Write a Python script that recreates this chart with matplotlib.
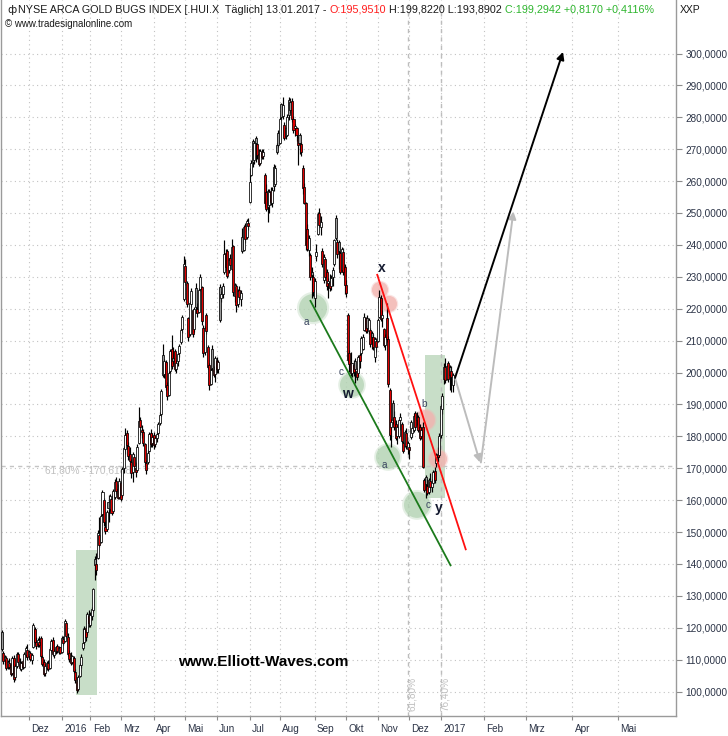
import numpy as np
import pandas as pd
import matplotlib
matplotlib.use("Agg")
import matplotlib.pyplot as plt
from matplotlib import font_manager
from matplotlib.patches import Rectangle, Ellipse, FancyArrowPatch
from matplotlib.transforms import ScaledTranslation

# ---------------- data ----------------
holidays = ["2015-11-26", "2015-12-25", "2016-01-01", "2016-01-18", "2016-02-15",
            "2016-03-25", "2016-05-30", "2016-07-04", "2016-09-05", "2016-11-24",
            "2016-12-26", "2017-01-02"]
first_date = "2015-11-04"
last_date = "2017-01-13"

opens = [
    # Nov 2015
    118.5, 112.0, 109.8, 110.5, 107.6, 109.0, 108.2, 105.8, 110.6, 104.5, 108.0, 111.8, 109.0, 107.2, 109.5, 107.8, 111.5, 113.0,
    # Dec 2015
    111.2, 112.0, 110.0, 113.8, 119.5, 115.4, 114.8, 115.5, 116.8, 110.8, 109.2, 105.8, 107.5, 109.0, 107.5, 113.0, 116.2, 111.4, 112.6, 114.2, 112.4, 113.8,
    # Jan 2016
    112.5, 116.5, 115.8, 121.5, 117.0, 112.0, 110.5, 109.2, 110.6, 106.0, 103.2, 100.8, 104.9, 108.4, 113.5, 115.4, 119.8, 118.5, 123.8,
    # Feb
    121.0, 123.6, 125.5, 141.5, 140.0, 142.0, 149.0, 147.0, 155.5, 160.0, 151.5, 150.8, 159.5, 157.2, 160.5, 156.5, 161.0, 166.0, 163.5, 161.0,
    # Mar
    165.5, 161.5, 170.2, 176.0, 181.0, 177.0, 174.5, 172.0, 168.8, 173.5, 170.2, 169.5, 178.0, 185.2, 182.0, 181.5, 177.5, 171.5, 172.0, 175.5, 181.0, 178.0,
    # Apr
    180.5, 177.5, 179.5, 181.0, 184.2, 187.0, 205.5, 199.5, 203.2, 196.0, 193.0, 200.5, 207.5, 204.5, 206.8, 201.0, 203.5, 206.0, 209.5, 213.5, 223.0,
    # May
    233.5, 228.0, 217.0, 212.0, 221.5, 219.5, 213.5, 226.5, 220.0, 219.0, 226.2, 226.8, 214.0, 206.5, 218.0, 208.0, 202.5, 196.5, 207.5, 201.0, 199.5,
    # Jun
    203.5, 201.2, 226.8, 223.5, 224.5, 231.5, 237.5, 238.0, 232.0, 236.0, 232.5, 239.5, 224.0, 227.0, 221.5, 226.0, 223.0, 242.5, 238.5, 246.0, 242.5, 246.8,
    # Jul
    253.5, 262.0, 272.5, 266.5, 273.4, 271.5, 268.5, 265.8, 269.0, 268.0, 262.0, 256.5, 256.8, 252.5, 257.0, 253.0, 264.5, 259.0, 271.3, 275.0,
    # Aug
    272.0, 284.2, 280.5, 277.6, 276.5, 274.5, 285.4, 284.8, 285.0, 279.6, 276.5, 276.5, 273.4, 274.4, 271.5, 264.0, 258.0, 253.0, 245.0, 238.5, 236.8, 231.6, 230.0,
    # Sep
    223.5, 236.5, 243.5, 250.0, 245.5, 238.0, 229.0, 235.5, 231.6, 228.0, 228.5, 227.0, 230.0, 234.0, 248.3, 241.0, 241.0, 237.5, 232.0, 237.9, 233.0,
    # Oct
    227.5, 218.0, 206.0, 203.0, 199.7, 202.5, 203.5, 200.5, 199.7, 205.5, 206.0, 207.5, 213.3, 217.0, 217.0, 213.0, 213.3, 212.3, 211.0, 205.0, 210.0,
    # Nov
    210.0, 217.5, 223.5, 217.0, 213.5, 208.5, 217.0, 210.5, 194.5, 183.0, 190.3, 186.0, 184.0, 180.0, 180.0, 185.1, 184.0, 177.8, 177.0, 181.0, 176.0,
    # Dec
    176.5, 179.9, 181.0, 182.0, 187.2, 186.0, 186.2, 183.0, 180.0, 183.0, 166.3, 167.3, 164.5, 162.5, 166.0, 164.2, 165.5, 169.0, 171.5, 174.5, 174.0,
    # Jan 2017
    180.5, 188.5, 198.0, 201.8, 198.0, 202.9, 201.8, 200.5, 195.951,
]
highs = [
    119.3, 112.8, 111.5, 111.2, 110.0, 110.6, 109.0, 111.0, 111.5, 108.5, 112.3, 112.4, 110.5, 109.6, 110.2, 112.5, 114.2, 114.8,
    113.0, 112.8, 112.0, 121.6, 120.3, 117.0, 116.8, 117.3, 117.5, 111.5, 110.2, 108.6, 109.5, 110.0, 113.8, 116.5, 117.2, 113.2, 114.4, 115.0, 114.2, 114.0,
    117.5, 117.4, 122.8, 122.0, 118.2, 113.0, 112.4, 111.5, 111.2, 107.2, 104.6, 105.2, 108.8, 111.6, 119.8, 120.4, 120.6, 125.0, 125.4,
    124.8, 126.5, 132.6, 142.5, 143.5, 150.5, 154.8, 155.5, 163.2, 160.8, 153.5, 157.0, 161.6, 162.0, 161.5, 163.5, 166.5, 167.2, 165.0, 166.8,
    166.0, 170.5, 177.0, 182.5, 182.0, 178.2, 176.8, 172.8, 175.2, 174.5, 171.8, 177.5, 189.3, 186.2, 183.5, 182.4, 178.0, 172.5, 175.8, 181.5, 182.2, 181.0,
    181.2, 180.0, 181.2, 184.5, 187.5, 194.8, 209.0, 204.2, 204.0, 197.0, 200.5, 207.5, 211.8, 208.0, 207.4, 204.0, 206.2, 208.8, 214.0, 218.0, 236.5,
    235.5, 228.8, 217.5, 222.5, 226.5, 220.0, 220.5, 228.0, 221.8, 226.5, 230.8, 227.2, 215.0, 214.6, 218.6, 208.5, 203.0, 201.5, 208.5, 202.0, 205.2,
    205.0, 204.0, 227.6, 225.5, 228.0, 241.5, 238.8, 238.8, 236.0, 237.2, 242.0, 240.0, 228.2, 227.8, 226.2, 227.0, 226.0, 245.2, 246.2, 247.0, 248.0, 248.5,
    264.0, 266.5, 273.2, 272.5, 274.0, 272.0, 270.0, 270.0, 270.2, 270.0, 262.5, 259.0, 257.5, 257.5, 258.0, 258.0, 265.5, 265.0, 272.0, 276.0,
    280.0, 284.5, 286.4, 278.5, 277.0, 281.0, 286.5, 286.0, 286.2, 280.5, 278.0, 277.0, 274.0, 275.0, 272.2, 265.0, 259.5, 253.5, 246.5, 243.0, 237.5, 233.0, 231.0,
    229.5, 240.2, 250.4, 251.5, 249.0, 239.0, 237.0, 236.0, 232.5, 229.5, 231.0, 230.5, 233.0, 242.0, 249.5, 242.0, 241.5, 238.0, 239.4, 239.0, 234.0,
    229.0, 218.5, 207.0, 206.5, 203.0, 203.9, 204.5, 201.5, 205.5, 206.2, 211.5, 212.0, 218.8, 217.5, 218.0, 217.0, 214.0, 213.0, 212.0, 211.2, 210.8,
    217.0, 225.9, 224.2, 219.5, 214.0, 212.0, 221.7, 211.5, 195.0, 185.5, 191.5, 188.0, 185.0, 183.5, 185.5, 187.2, 184.5, 178.5, 182.0, 182.5, 178.5,
    177.8, 185.1, 183.0, 187.2, 188.0, 187.5, 186.8, 184.0, 183.0, 184.5, 167.0, 168.0, 166.5, 167.0, 168.5, 166.5, 169.4, 170.5, 174.7, 176.8, 181.0,
    190.0, 193.5, 203.0, 204.4, 202.5, 203.5, 202.5, 202.0, 199.822,
]
lows = [
    112.8, 108.5, 108.2, 106.8, 106.9, 107.0, 104.8, 105.2, 103.0, 103.5, 107.5, 108.6, 106.8, 106.5, 107.0, 107.4, 110.8, 110.0,
    110.2, 109.5, 108.6, 113.5, 115.0, 113.4, 113.8, 114.0, 110.6, 108.0, 104.8, 105.0, 106.8, 106.5, 107.2, 112.5, 111.0, 110.5, 111.8, 112.0, 111.8, 111.6,
    112.0, 114.6, 115.4, 116.8, 111.2, 109.4, 108.2, 108.6, 105.8, 102.8, 99.4, 100.2, 104.4, 107.5, 113.0, 114.5, 115.8, 117.8, 120.2,
    120.2, 122.4, 125.0, 135.0, 136.5, 141.5, 145.2, 146.5, 155.0, 152.0, 149.5, 150.2, 153.0, 156.5, 155.2, 156.0, 160.5, 162.0, 160.2, 160.5,
    159.6, 161.0, 168.5, 174.5, 176.0, 172.5, 171.0, 167.0, 165.8, 169.5, 167.2, 169.0, 177.5, 180.5, 179.4, 177.0, 171.0, 168.2, 171.2, 175.0, 176.5, 176.8,
    176.0, 176.8, 178.2, 180.2, 183.4, 186.5, 198.5, 198.2, 194.5, 191.4, 192.5, 200.0, 201.2, 202.8, 200.5, 199.8, 202.0, 204.8, 209.0, 212.5, 222.5,
    227.5, 220.5, 210.0, 211.5, 220.5, 211.0, 212.8, 218.8, 217.5, 218.5, 225.5, 215.0, 205.0, 205.5, 212.0, 201.0, 194.5, 196.0, 200.5, 198.5, 197.0,
    200.0, 199.7, 215.8, 222.0, 223.5, 231.0, 232.0, 229.5, 231.2, 232.5, 232.0, 224.0, 222.2, 219.0, 220.5, 222.8, 221.0, 237.5, 238.0, 240.5, 242.0, 244.8,
    253.0, 261.5, 264.5, 265.5, 266.0, 267.0, 264.8, 265.0, 266.8, 267.0, 252.0, 250.5, 247.3, 250.0, 252.5, 252.0, 257.0, 258.5, 268.5, 270.8,
    271.5, 279.0, 279.5, 273.0, 273.2, 274.0, 279.2, 281.5, 278.5, 275.0, 274.0, 272.5, 265.0, 268.5, 268.0, 256.0, 252.8, 238.5, 238.0, 236.5, 229.0, 223.2, 224.0,
    220.6, 235.0, 243.0, 245.5, 243.1, 233.0, 228.0, 229.0, 226.0, 223.2, 225.5, 226.0, 227.0, 233.5, 241.5, 236.0, 232.6, 231.0, 231.5, 230.5, 224.5,
    223.8, 203.4, 200.2, 199.0, 198.5, 199.0, 196.6, 197.5, 199.0, 201.5, 205.5, 207.0, 213.0, 212.3, 212.5, 212.0, 208.1, 207.5, 207.0, 203.4, 206.5,
    209.5, 217.0, 216.0, 214.4, 208.0, 207.1, 209.5, 195.5, 178.8, 176.5, 184.0, 182.0, 178.8, 177.5, 179.5, 182.0, 177.8, 174.7, 176.5, 176.0, 174.5,
    173.0, 179.0, 179.9, 181.5, 182.0, 183.5, 181.5, 178.8, 179.0, 170.0, 162.5, 160.6, 161.5, 161.8, 163.0, 162.5, 165.0, 165.3, 170.5, 172.0, 173.5,
    179.5, 187.0, 196.5, 196.6, 197.5, 197.0, 194.5, 194.0, 193.8902,
]
closes = [
    113.2, 109.5, 110.8, 107.4, 109.2, 107.8, 105.6, 110.4, 103.8, 107.9, 111.6, 109.2, 107.5, 109.0, 107.6, 111.8, 113.6, 110.9,
    112.4, 110.2, 111.5, 121.0, 115.6, 114.2, 116.0, 114.6, 111.2, 108.5, 105.4, 107.9, 108.8, 107.1, 113.3, 115.9, 111.6, 112.8, 113.9, 112.6, 113.5, 112.1,
    116.8, 115.3, 122.0, 117.3, 111.8, 110.1, 108.8, 111.0, 106.3, 103.5, 100.4, 104.6, 108.2, 110.9, 115.2, 119.6, 117.2, 124.2, 121.4,
    124.0, 125.8, 132.0, 139.8, 138.2, 149.6, 146.0, 155.0, 162.6, 153.0, 150.4, 156.2, 157.5, 161.2, 156.0, 162.8, 165.8, 162.9, 160.8, 166.0,
    160.4, 169.8, 176.2, 180.5, 177.2, 173.8, 172.2, 168.5, 174.4, 170.6, 168.8, 176.8, 184.8, 182.8, 181.2, 178.0, 172.0, 169.4, 174.8, 180.8, 177.5, 179.8,
    177.2, 179.4, 180.6, 183.9, 186.6, 194.2, 199.2, 203.5, 195.5, 192.6, 199.8, 206.8, 202.0, 203.6, 201.2, 203.0, 205.8, 208.2, 213.4, 217.4, 234.0,
    228.5, 221.5, 211.0, 221.8, 225.6, 212.2, 219.8, 220.5, 218.6, 225.9, 230.0, 216.0, 206.0, 213.8, 213.0, 201.8, 196.0, 200.8, 201.5, 199.2, 204.6,
    201.0, 203.2, 216.6, 224.6, 227.2, 237.2, 233.2, 230.2, 235.4, 233.6, 239.4, 225.2, 227.4, 221.2, 225.4, 223.6, 224.8, 238.2, 245.5, 242.0, 247.5, 246.0,
    259.8, 265.8, 266.0, 271.8, 272.0, 268.2, 265.5, 269.4, 267.6, 269.2, 253.0, 251.4, 252.0, 256.5, 253.5, 257.2, 258.5, 264.2, 269.2, 271.4,
    279.5, 280.0, 283.8, 273.6, 274.0, 280.2, 280.6, 282.4, 279.6, 276.0, 277.2, 274.4, 271.3, 272.0, 269.2, 257.7, 253.0, 240.0, 238.8, 242.2, 229.8, 230.5, 225.2,
    228.6, 237.9, 249.8, 246.2, 247.2, 234.0, 236.2, 229.8, 227.2, 228.8, 226.5, 229.5, 232.2, 241.5, 242.2, 237.0, 238.0, 231.6, 238.8, 231.5, 227.4,
    224.8, 204.0, 202.8, 199.8, 202.9, 200.2, 201.0, 198.5, 204.8, 203.5, 210.8, 211.2, 217.5, 213.0, 214.0, 216.5, 209.0, 211.0, 208.0, 210.5, 208.0,
    216.5, 223.8, 216.8, 218.0, 208.6, 211.2, 210.5, 196.5, 180.5, 184.5, 185.0, 183.0, 179.6, 182.8, 185.0, 186.2, 178.5, 175.5, 181.5, 177.0, 177.8,
    175.8, 184.5, 182.5, 186.5, 183.0, 185.2, 182.0, 179.5, 182.0, 170.5, 163.2, 165.0, 162.2, 166.2, 164.0, 165.8, 168.8, 166.4, 174.0, 173.6, 180.2,
    189.5, 192.5, 201.8, 197.8, 201.9, 198.0, 199.2, 198.4772, 199.2942,
]

y_ticks = list(range(100, 310, 10))
month_names = {2: "Feb", 3: "Mrz", 4: "Apr", 5: "Mai", 6: "Jun", 7: "Jul", 8: "Aug",
               9: "Sep", 10: "Okt", 11: "Nov", 12: "Dez"}
tick_months = pd.date_range("2015-12-01", "2017-05-01", freq="MS")

# annotations (x in bar units, y in index points)
fib_level = 170.6
fib_level_label = "61,80% - 170,6188"
fib_time_x = [270.4, 292.3]
fib_time_labels = ["61,80%", "76,40%"]
box_x0 = [49.4, 281.4]
box_x1 = [63.2, 294.7]
box_y0 = [99.0, 160.7]
box_y1 = [144.4, 205.5]
green_circ_x = [207.0, 232.9, 256.8, 276.1]
green_circ_y = [220.2, 196.1, 173.5, 158.5]
green_circ_r = [14, 12, 12, 13]          # radius in pixels
pink_circ_x = [251.5, 257.5, 281.4, 290.1]
pink_circ_y = [225.9, 221.5, 185.1, 172.9]
pink_circ_r = [8, 8, 10, 9]
green_line_x = [205.0, 298.7]
green_line_y = [222.7, 139.3]
red_line_x = [249.5, 308.7]
red_line_y = [230.9, 144.3]
black_arrow_x = [301.4, 373.2]
black_arrow_y = [198.3, 300.5]
gray_arrow1_x = [301.4, 318.0]
gray_arrow1_y = [198.3, 171.8]
gray_arrow2_x = [318.6, 340.2]
gray_arrow2_y = [171.8, 250.5]
wave_text = ["a", "c", "w", "x", "a", "b", "c", "y"]
wave_x = [202.8, 226.0, 229.9, 252.8, 254.2, 280.8, 283.6, 290.6]
wave_y = [215.9, 200.1, 193.4, 232.8, 171.0, 190.1, 158.6, 157.4]
wave_bold = [False, False, True, True, False, False, False, True]

# ---------------- layout ----------------
W, H = 728, 736
PX_PER_BAR = 1.504
X0_PX = 1.72
PX_PER_PT = 3.19
fig = plt.figure(figsize=(W / 100, H / 100), dpi=100)
ax = fig.add_axes([1 / W, 20 / H, 675 / W, 716 / H])
ax.set_xlim((1 - X0_PX) / PX_PER_BAR, (676 - X0_PX) / PX_PER_BAR)
ax.set_ylim(300 - (716 - 53.5) / PX_PER_PT, 300 + 53.5 / PX_PER_PT)

available = {f.name for f in font_manager.fontManager.ttflist}
SANS = "Liberation Sans" if "Liberation Sans" in available else "DejaVu Sans"
NARROW = "Liberation Sans Narrow" if "Liberation Sans Narrow" in available else SANS

dates = pd.bdate_range(first_date, last_date, freq="C", holidays=holidays)
n = len(dates)
assert n == len(opens) == len(highs) == len(lows) == len(closes), (n, len(opens), len(highs), len(lows), len(closes))

def date_to_x(d):
    d = pd.Timestamp(d)
    if d <= dates[-1]:
        return float(np.searchsorted(dates.values, np.datetime64(d)))
    return (n - 1) + 1.5 + (d - dates[-1]).days

# grid & ticks
xt = [date_to_x(d) for d in tick_months]
xl = [str(d.year) if d.month == 1 else month_names[d.month] for d in tick_months]
ax.set_xticks(xt)
ax.set_xticklabels(xl)
ax.set_yticks(y_ticks)
ax.set_yticklabels([f"{v:.4f}".replace(".", ",") for v in y_ticks])
ax.yaxis.tick_right()
ax.tick_params(axis="y", direction="out", length=4, width=0.8, color="#8c8c8c",
               labelsize=7.2, labelcolor="#2b3346", pad=3)
ax.tick_params(axis="x", direction="out", length=3, width=0.8, color="#8c8c8c",
               labelsize=7.2, labelcolor="#2b3346", pad=2.5)
off = ScaledTranslation(0.022, 0, fig.dpi_scale_trans)
for lab in ax.get_xticklabels():
    lab.set_horizontalalignment("left")
    lab.set_transform(lab.get_transform() + off)
for lab in ax.get_xticklabels() + ax.get_yticklabels():
    lab.set_family(SANS)
ax.grid(True, color="#c2c2c2", linestyle=(0, (1, 3)), linewidth=0.8)
ax.set_axisbelow(True)
for s in ["left", "right", "bottom"]:
    ax.spines[s].set_color("#9a9a9a")
    ax.spines[s].set_linewidth(1.0)
ax.spines["top"].set_visible(False)

# fib level & time lines
ax.axhline(fib_level, color="#c4c4c4", lw=1.0, ls=(0, (3, 3)), zorder=1.2)
ax.text(29.0, fib_level - 1.4, fib_level_label, color="#c0c0c0", fontsize=7.3,
        family=SANS, va="center", ha="left", zorder=1.3)
for fx, ft in zip(fib_time_x, fib_time_labels):
    ax.axvline(fx, color="#bdbdbd", lw=1.0, ls=(0, (3, 3)), zorder=1.2)
    ax.text(fx + 2.2, 93.8, ft, color="#c0c0c0", fontsize=7.2, family=SANS,
            rotation=90, ha="center", va="bottom", zorder=1.3)

# shaded boxes
for a, b, c0, c1 in zip(box_x0, box_x1, box_y0, box_y1):
    ax.add_patch(Rectangle((a, c0), b - a, c1 - c0, facecolor="#c8dec8",
                           edgecolor="none", zorder=1.1))

# circles
def circ(x, y, r, col):
    for k, al in [(1.15, 0.35), (1.0, 0.75)]:
        ax.add_patch(Ellipse((x, y), 2 * r * k / PX_PER_BAR, 2 * r * k / PX_PER_PT,
                             facecolor=col, edgecolor="none", alpha=al, zorder=1.5))
for x, y, r in zip(green_circ_x, green_circ_y, green_circ_r):
    circ(x, y, r, "#b4d3b4")
for x, y, r in zip(pink_circ_x, pink_circ_y, pink_circ_r):
    circ(x, y, r, "#f2b4b0")

# candles
o = np.array(opens); h = np.array(highs); l = np.array(lows); c = np.array(closes)
xs = np.arange(n)
prev = np.r_[c[0], c[:-1]]
cols = np.where(c >= o, "white", np.where(c >= prev, "#9a9a9a", "#e00000"))
ax.vlines(xs, l, h, color="black", lw=0.85, zorder=3)
bottom = np.minimum(o, c)
height = np.maximum(np.abs(c - o), 0.35)
ax.bar(xs, height, bottom=bottom, width=1.35, color=cols, edgecolor="black",
       linewidth=0.55, zorder=4)

# trend lines & arrows
ax.plot(green_line_x, green_line_y, color="#1b7a1b", lw=1.3, zorder=5, solid_capstyle="butt")
ax.plot(red_line_x, red_line_y, color="#ff1010", lw=1.3, zorder=5, solid_capstyle="butt")
def arrow(xx, yy, col):
    ax.add_patch(FancyArrowPatch((xx[0], yy[0]), (xx[1], yy[1]), arrowstyle="-|>",
                                 mutation_scale=11, color=col, lw=1.4, zorder=5,
                                 shrinkA=0, shrinkB=0))
arrow(gray_arrow1_x, gray_arrow1_y, "#bcbcbc")
arrow(gray_arrow2_x, gray_arrow2_y, "#bcbcbc")
arrow(black_arrow_x, black_arrow_y, "#000000")

# wave labels
for t, x, y, b in zip(wave_text, wave_x, wave_y, wave_bold):
    if b:
        ax.text(x, y, t, fontsize=10, fontweight="bold", color="#141a30", family=SANS,
                ha="center", va="center", zorder=6)
    else:
        ax.text(x, y, t, fontsize=7.2, color="#3a4560", family=SANS,
                ha="center", va="center", zorder=6)

ax.text((263 - 1) / 675, (716 - 662) / 716, "www.Elliott-Waves.com", transform=ax.transAxes,
        fontsize=11, fontweight="bold", color="black", family=SANS,
        ha="center", va="center", zorder=6)

# header texts
r = fig.canvas.get_renderer()
def width_of(s, size, fam):
    t = fig.text(0, 0, s, fontsize=size, family=fam)
    w = t.get_window_extent(renderer=r).width
    t.remove()
    return w

chg = closes[-1] - closes[-2]
pct = chg / closes[-2] * 100
def fmt(v):
    return f"{v:.4f}".replace(".", ",")
parts = [
    (f"NYSE ARCA GOLD BUGS INDEX [.HUI.X  Täglich] {dates[-1].strftime('%d.%m.%Y')} -", "#1a1a1a"),
    (f"O:{fmt(opens[-1])}", "#ff1a1a"),
    (f"H:{fmt(highs[-1])} L:{fmt(lows[-1])}", "#1a1a1a"),
    (f"C:{fmt(closes[-1])} {'+' if chg >= 0 else ''}{fmt(chg)} {'+' if chg >= 0 else ''}{fmt(pct)}%", "#2db52d"),
]
full = " ".join(p for p, _ in parts)
base = 8.0
size = base * 637 / width_of(full, base, NARROW)
wX = width_of("X", size, NARROW)
x0 = 18
prefix = ""
for s, col in parts:
    px = x0 + (width_of(prefix + "X", size, NARROW) - wX if prefix else 0)
    fig.text(px / W, 1 - 10 / H, s, color=col, fontsize=size, family=NARROW, va="center", ha="left")
    prefix += s + " "
fig.text(7 / W, 1 - 10 / H, "ф", fontsize=size, family="DejaVu Sans", color="#1a1a1a", va="center", ha="left")

sub = "© www.tradesignalonline.com"
ssize = 7.5 * 128 / width_of(sub, 7.5, NARROW)
fig.text(5 / W, 1 - 24 / H, sub, fontsize=ssize, family=NARROW, color="#1a1a1a", va="center", ha="left")
fig.text(680 / W, 1 - 10 / H, "XXP", fontsize=7.5, family=SANS, color="#1a1a1a", va="center", ha="left")

fig.savefig("out.png", dpi=100)
